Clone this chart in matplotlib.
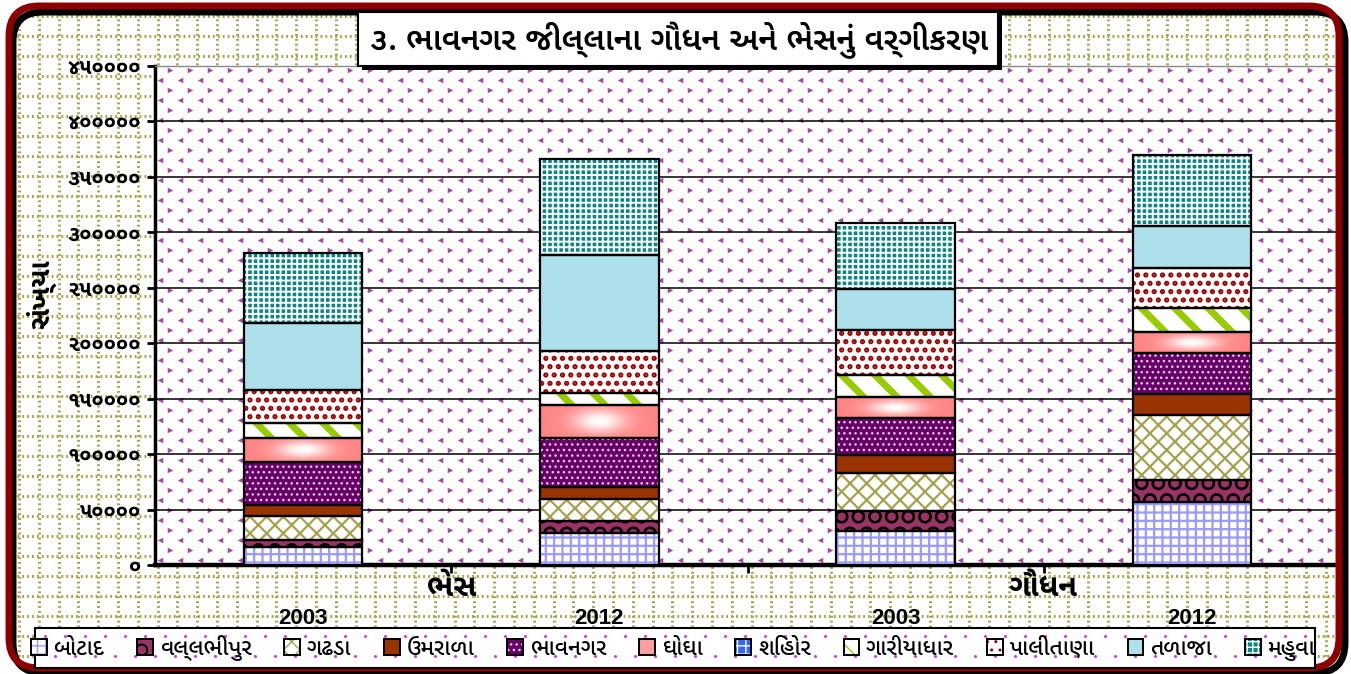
import numpy as np
import matplotlib
matplotlib.use("Agg")
import matplotlib.pyplot as plt
from matplotlib import font_manager
from matplotlib.patches import Rectangle, FancyBboxPatch, Patch
from matplotlib.lines import Line2D
from matplotlib.transforms import IdentityTransform

# ---------------- data ----------------
title = "૩. ભાવનગર જીલ્લાના ગૌધન અને ભેસનું વર્ગીકરણ"
ylabel = "સંખ્યા"
groups = ["ભેસ", "ગૌધન"]
years = ["2003", "2012", "2003", "2012"]
series = ["બોટાદ", "વલ્લભીપુર", "ગઢડા", "ઉમરાળા", "ભાવનગર", "ઘોઘા",
          "શિહોર", "ગારીયાધાર", "પાલીતાણા", "તળાજા", "મહુવા"]
botad = [16300, 29200, 30800, 56400]
vallabhipur = [6600, 10600, 17500, 20300]
gadhada = [21700, 19900, 34400, 58800]
umrala = [9700, 10200, 16900, 19000]
bhavnagar = [38600, 44700, 33200, 37100]
ghogha = [21700, 30100, 18600, 18100]
sihor = [0, 0, 0, 0]
gariyadhar = [13200, 10600, 19600, 21700]
palitana = [30200, 37600, 40700, 36700]
talaja = [60300, 86600, 37100, 38000]
mahuva = [63400, 86900, 59500, 64000]
yticks = [0, 50000, 100000, 150000, 200000, 250000, 300000, 350000, 400000, 450000]
ytick_labels = ["૦", "૫૦૦૦૦", "૧૦૦૦૦૦", "૧૫૦૦૦૦", "૨૦૦૦૦૦", "૨૫૦૦૦૦",
                "૩૦૦૦૦૦", "૩૫૦૦૦૦", "૪૦૦૦૦૦", "૪૫૦૦૦૦"]
values = [botad, vallabhipur, gadhada, umrala, bhavnagar, ghogha, sihor,
          gariyadhar, palitana, talaja, mahuva]

# ---------------- fonts ----------------
GU = ["Noto Sans Gujarati UI", "Noto Sans Gujarati", "Anek Gujarati", "DejaVu Sans"]
LAT = ["Liberation Sans Narrow", "Liberation Sans", "DejaVu Sans"]

W, H = 1351, 674
fig = plt.figure(figsize=(W / 100, H / 100), dpi=100)
fig.patch.set_facecolor("white")

def fx(px):
    return px / W

def fy(py):
    return 1 - py / H

# graph paper background
gp = dict(color="#a9a34e", lw=2.2, linestyle=(0, (0.6, 1.0)), zorder=0)
for x in np.arange(19, 1335, 19.8):
    fig.add_artist(Line2D([fx(x), fx(x)], [fy(14), fy(664)], transform=fig.transFigure, **gp))
for y in np.arange(16, 664, 20):
    fig.add_artist(Line2D([fx(12), fx(1336)], [fy(y), fy(y)], transform=fig.transFigure, **gp))

# border with shadow
fig.add_artist(FancyBboxPatch((13, 1), 1332, 661, boxstyle="round,pad=0,rounding_size=30",
                              transform=IdentityTransform(), fill=False, ec="black", lw=5, zorder=1))
fig.add_artist(FancyBboxPatch((9, 6), 1330, 662, boxstyle="round,pad=0,rounding_size=30",
                              transform=IdentityTransform(), fill=False, ec="#8b0000", lw=5, zorder=1.1))

# ---------------- axes ----------------
ax = fig.add_axes([fx(155), fy(565), fx(1340 - 155), (565 - 66) / H])
ax.set_facecolor("white")

# chevron pattern of the plot area
cols = np.arange(0, 1185, 20)
rows = np.arange(0, 499, 10)
for parity, mk in ((0, "<"), (1, ">")):
    xs, ys = [], []
    for j, r in enumerate(rows):
        if j % 2 != parity:
            continue
        for c in cols:
            xs.append((c + 5 + parity * 10) / 1185)
            ys.append((r + 5) / 499)
    ax.scatter(xs, ys, marker=mk, s=16, color="#a04aa0", transform=ax.transAxes,
               zorder=0.5, linewidths=0, clip_on=True)

for yv in yticks[1:]:
    ax.axhline(yv, color="black", lw=1.1, zorder=1)

styles = [
    dict(face="white", hatch="++", hc="#9a9aff", hlw=1.6),
    dict(face="#993366", hatch="O", hc="black", hlw=1.5),
    dict(face="white", hatch="xx", hc="#a8a050", hlw=1.6),
    dict(face="#993300"),
    dict(face="#660066", hatch="...", hc="#f0c8f0", hlw=1.0),
    dict(face="#ffa0a0", grad=True),
    dict(face="#3366ff", hatch="++", hc="white", hlw=1.5),
    dict(face="white", hatch="\\", hc="#99cc00", hlw=5),
    dict(face="white", hatch="..", hc="#990000", hlw=2.5),
    dict(face="#ade0ea"),
    dict(face="#0a8585", hatch="+++", hc="white", hlw=1.4),
]

bw = 0.4
xpos = np.arange(len(years))

def grad_img():
    xx = np.linspace(-1, 1, 120)
    yy = np.linspace(-1, 1, 40)
    X, Y = np.meshgrid(xx, yy)
    t = np.exp(-(X / 0.45) ** 2) * np.exp(-(Y / 0.7) ** 2)
    edge = np.array([1.0, 0.52, 0.52])
    white = np.array([1.0, 1.0, 1.0])
    return edge[None, None, :] * (1 - t[..., None]) + white[None, None, :] * t[..., None]

G = grad_img()
bottom = np.zeros(len(years))
for vals, st in zip(values, styles):
    vals = np.asarray(vals, dtype=float)
    for i in range(len(years)):
        h = vals[i]
        if h <= 0:
            continue
        if st.get("grad"):
            ax.imshow(G, extent=[xpos[i] - bw / 2, xpos[i] + bw / 2, bottom[i], bottom[i] + h],
                      aspect="auto", zorder=3, interpolation="bilinear")
        else:
            with plt.rc_context({"hatch.linewidth": st.get("hlw", 1.0)}):
                ax.bar(xpos[i], h, bw, bottom[i], color=st["face"],
                       edgecolor=st.get("hc", st["face"]), hatch=st.get("hatch"),
                       linewidth=0, zorder=3)
        ax.bar(xpos[i], h, bw, bottom[i], fill=False, edgecolor="black", linewidth=1.6, zorder=4)
    bottom += vals
ax.set_xlim(-0.5, 3.5)
ax.set_ylim(0, 450000)

ax.set_yticks(yticks)
ax.set_yticklabels(ytick_labels, family=GU, fontsize=15.5, fontweight="bold")
ax.set_xticks([0.5, 1.5, 2.5])
ax.set_xticklabels([])
ax.tick_params(axis="y", direction="out", length=6, width=2, pad=4)
ax.tick_params(axis="x", direction="out", length=6, width=2)
ax.spines["left"].set_linewidth(2.5)
ax.spines["bottom"].set_linewidth(3.2)
ax.spines["top"].set_color("#888888")
ax.spines["top"].set_linewidth(1)
ax.spines["right"].set_visible(False)

# axis texts
fig.text(fx(41), fy(294), ylabel, rotation=90, ha="center", va="center",
         family=GU, fontsize=20, fontweight="bold")
xt = ax.get_xaxis_transform()
for i, yr in enumerate(years):
    ax.text(xpos[i], (565 - 619) / 499, yr, transform=xt, ha="center", va="center",
            family=LAT, fontsize=16, fontweight="bold", clip_on=False)
for k, g in enumerate(groups):
    ax.text(0.5 + 2 * k, (565 - 588) / 499, g, transform=xt, ha="center", va="center",
            family=GU, fontsize=22, fontweight="bold", clip_on=False)

# title box
fig.add_artist(Rectangle((fx(362), fy(70)), fx(1002 - 362), (70 - 14) / H,
                         transform=fig.transFigure, fc="black", ec="black", lw=0, zorder=5))
fig.add_artist(Rectangle((fx(358), fy(66)), fx(998 - 358), (66 - 12) / H,
                         transform=fig.transFigure, fc="white", ec="black", lw=1.5, zorder=6))
fig.text(fx(679), fy(40), title, ha="center", va="center", family=GU,
         fontsize=22.8, fontweight="semibold", zorder=7)

# legend box
fig.add_artist(Rectangle((fx(35), fy(668)), fx(1315 - 35), (668 - 628) / H,
                         transform=fig.transFigure, fc="white", ec="black", lw=1.5, zorder=5))
lx, ly = [], []
for r, yy in enumerate([636, 656]):
    for xx in np.arange(45 + (r % 2) * 10, 1310, 20):
        lx.append(fx(xx))
        ly.append(fy(yy))
fig.add_artist(Line2D(lx, ly, transform=fig.transFigure, ls="none", marker="o",
                      ms=2.2, color="#cc44cc", mew=0, zorder=5.5))
handles = []
for name, st in zip(series, styles):
    inner = Patch(facecolor=st["face"], edgecolor=st.get("hc", st["face"]),
                  hatch=st.get("hatch"), lw=0)
    outer = Patch(fill=False, edgecolor="black", lw=1.4)
    handles.append((inner, outer))
leg = fig.legend(handles=handles, labels=series, loc="center", bbox_to_anchor=(fx(673), fy(648)),
                 ncol=len(series), frameon=False,
                 prop=font_manager.FontProperties(family=GU, size=16.3, weight="medium"),
                 handlelength=0.7, handleheight=0.7, handletextpad=0.3, columnspacing=1.45,
                 borderaxespad=0)
leg.set_zorder(6)

fig.savefig("out.png", dpi=100, facecolor="white")
